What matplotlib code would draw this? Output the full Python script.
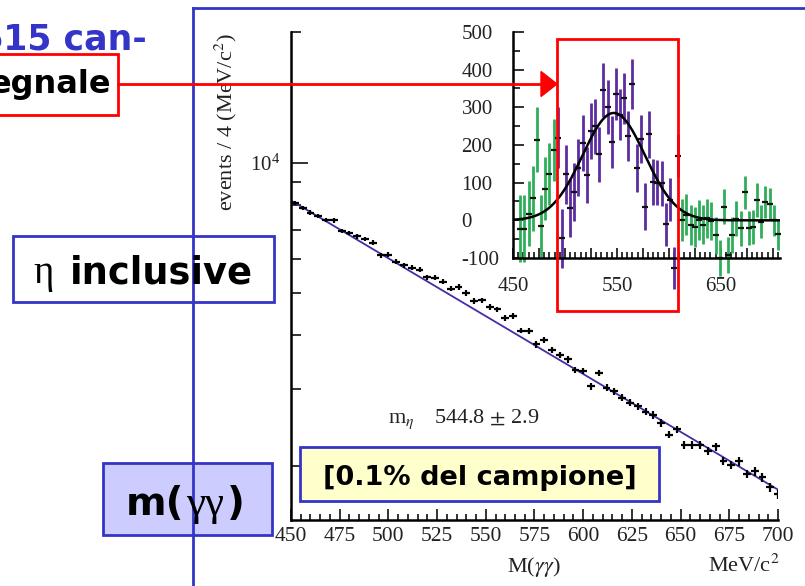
import numpy as np
import matplotlib
matplotlib.use('Agg')
import matplotlib.pyplot as plt
from matplotlib.patches import Rectangle, Polygon
from matplotlib.ticker import (MultipleLocator, FixedLocator, FixedFormatter,
                               NullFormatter, FuncFormatter)

plt.rcParams['font.family'] = ['Liberation Serif', 'DejaVu Serif']
plt.rcParams['mathtext.fontset'] = 'stix'
plt.rcParams['axes.unicode_minus'] = False

# m(gamma gamma) spectrum, 4 MeV/c^2 bins
mass = np.arange(452, 701, 4)
counts = [8058, 7860, 7669, 7522, 7381, 7359, 6956, 6886, 6759, 6662,
          6538, 6118, 6138, 5903, 5803, 5729, 5659, 5441, 5430, 5316,
          5118, 5169, 5008, 4801, 4816, 4652, 4590, 4386, 4424, 4101,
          4082, 3809, 3910, 3696, 3605, 3518, 3326, 3312, 3051, 3272,
          3026, 2967, 2868, 2794, 2744, 2664, 2621, 2508, 2361, 2426,
          2237, 2230, 2229, 2159, 2216, 2049, 2008, 2048, 1915, 1943,
          1882, 1787, 1718]

# exponential background fit, values at the ends of the range
bg_mass = [450, 700]
bg_counts = [8178, 1762]

# background-subtracted spectrum (inset)
sub_mass = np.arange(457, 706, 4)
excess = np.array([-22, -22, 18, 59, 214, -15, 84, 122, 186, 219,
                   -48, 122, 33, 75, 140, 205, 120, 238, 250, 175,
                   346, 301, 209, 335, 280, 324, 223, 362, 138, 215,
                   36, 228, 103, 100, 98, -11, 55, -127, 171, 1,
                   15, -12, -17, 1, -12, 5, -2, -40, -100, 36,
                   -92, -39, 4, -21, 74, -21, -17, 54, -4, 48,
                   43, 0, -37])
excess_err = np.array([89, 88, 87, 86, 86, 83, 83, 82, 82, 81,
                       78, 78, 77, 76, 76, 75, 74, 74, 73, 72,
                       72, 71, 69, 69, 68, 68, 66, 67, 64, 64,
                       62, 63, 61, 60, 59, 58, 58, 55, 57, 55,
                       54, 54, 53, 52, 52, 51, 50, 49, 49, 47,
                       47, 47, 46, 47, 45, 45, 45, 44, 44, 43,
                       42, 41, 41])
signal_window = (492, 610)

# gaussian fit of the eta peak
peak_height = 285
peak_mean = 547
peak_sigma = 30

BLUE = '#3434c8'
RED = '#ff0000'
FIT_COLOR = '#4a2aa5'
SIG_COLOR = '#5b2d9e'
SB_COLOR = '#2fae5a'
INK = '#222222'

W, H = 805, 586
fig = plt.figure(figsize=(W / 100, H / 100), dpi=100)


def rect(x0, y0, x1, y1):
    # pixel box, origin top-left -> figure fraction
    return [x0 / W, 1 - y1 / H, (x1 - x0) / W, (y1 - y0) / H]


# ---- main spectrum ----
ax = fig.add_axes(rect(291, 32, 778, 520))
ax.set_yscale('log')
ax.plot(bg_mass, bg_counts, color=FIT_COLOR, lw=1.3, zorder=2)
ax.errorbar(mass, counts, xerr=2, yerr=np.sqrt(counts), fmt='none',
            ecolor='k', elinewidth=1.6, capsize=0, zorder=3)
ax.set_xlim(450, 700)
ax.set_ylim(1500, 20000)
for s in ('top', 'right'):
    ax.spines[s].set_visible(False)
for s in ('left', 'bottom'):
    ax.spines[s].set_linewidth(1.8)
ax.xaxis.set_major_locator(MultipleLocator(25))
ax.xaxis.set_minor_locator(MultipleLocator(5))
ax.yaxis.set_major_locator(FixedLocator([1e4]))
ax.yaxis.set_major_formatter(FixedFormatter([r'$\mathdefault{10^{4}}$']))
ax.yaxis.set_minor_locator(FixedLocator([2000, 3000, 4000, 5000, 6000,
                                         7000, 8000, 9000, 20000]))
ax.yaxis.set_minor_formatter(NullFormatter())
ax.tick_params(which='both', direction='in', top=False, right=False,
               width=1.3, colors=INK, labelsize=15.5)
ax.tick_params(axis='x', which='major', length=8, pad=5)
ax.tick_params(axis='x', which='minor', length=4.5)
ax.tick_params(axis='y', which='major', length=12, pad=8, labelsize=15)
ax.tick_params(axis='y', which='minor', length=7)

# ---- inset: background subtracted ----
axin = fig.add_axes(rect(513, 32, 780, 258))
axin.patch.set_alpha(0)
sig = (sub_mass > signal_window[0]) & (sub_mass < signal_window[1])
for sel, col in ((~sig, SB_COLOR), (sig, SIG_COLOR)):
    eb = axin.errorbar(sub_mass[sel], excess[sel], yerr=excess_err[sel],
                       fmt='none', ecolor=col, elinewidth=2, capsize=0)
    for lc in eb[2]:
        lc.set_clip_on(False)
axin.plot(sub_mass, excess, ls='none', marker='_', ms=5, mew=1.6,
          color='#111111', clip_on=False)
xs = np.linspace(450, 707, 400)
axin.plot(xs, peak_height * np.exp(-0.5 * ((xs - peak_mean) / peak_sigma) ** 2),
          color='k', lw=1.8)
axin.set_xlim(450, 707)
axin.set_ylim(-100, 500)
for s in ('top', 'right'):
    axin.spines[s].set_visible(False)
for s in ('left', 'bottom'):
    axin.spines[s].set_linewidth(1.8)
axin.yaxis.set_major_locator(FixedLocator([-100, 0, 100, 200, 300, 400, 500]))
axin.yaxis.set_minor_locator(MultipleLocator(50))
axin.xaxis.set_major_locator(MultipleLocator(25))
axin.xaxis.set_minor_locator(MultipleLocator(5))
axin.xaxis.set_major_formatter(
    FuncFormatter(lambda v, p: f'{v:.0f}' if round(v) in (450, 550, 650) else ''))
axin.tick_params(which='both', direction='in', top=False, right=False,
                 width=1.3, colors=INK, labelsize=15)
axin.tick_params(axis='y', which='major', length=8, pad=37)
axin.tick_params(axis='y', which='minor', length=5)
axin.tick_params(axis='x', which='major', length=7, pad=14)
axin.tick_params(axis='x', which='minor', length=4)
fig.canvas.draw()
plt.setp(axin.get_yticklabels(), ha='left')

# ---- slide decorations, pixel coordinates ----
ov = fig.add_axes([0, 0, 1, 1], zorder=10)
ov.set_xlim(0, W)
ov.set_ylim(H, 0)
ov.axis('off')
ov.patch.set_alpha(0)

ov.plot([193, 193], [8, H + 5], color=BLUE, lw=2, clip_on=False)
ov.plot([193, W + 5], [8, 8], color=BLUE, lw=2, clip_on=False)

ov.text(147, 50, '615 can-', ha='right', va='baseline', fontsize=25,
        weight='bold', color=BLUE, family='DejaVu Sans')
ov.add_patch(Rectangle((-5, 54), 123, 61, facecolor='white', edgecolor=RED,
                       lw=2, clip_on=False))
ov.text(111, 93, 'egnale', ha='right', va='baseline', fontsize=23,
        weight='bold', color='black', family='DejaVu Sans')

ov.add_patch(Rectangle((556.7, 39), 121.6, 272, fill=False, edgecolor=RED, lw=2))
ov.plot([118, 543], [84, 84], color=RED, lw=2)
ov.add_patch(Polygon([[541, 71.5], [557, 84], [541, 96.5]], closed=True,
                     facecolor=RED, edgecolor=RED, lw=1))

# axis titles
ov.text(226, 122, 'events / 4 (MeV/c$^{2}$)', rotation=90, ha='center',
        va='center', fontsize=16, color=INK, zorder=1)
ov.text(534, 572, r'M($\gamma\gamma$)', ha='center', va='baseline',
        fontsize=16, color=INK)
ov.text(780, 572, 'MeV/c$^{2}$', ha='right', va='baseline', fontsize=16,
        color=INK)
ov.text(388, 423, r'm$_{\eta}$', ha='left', va='baseline', fontsize=16, color=INK)
ov.text(434, 423, r'544.8 $\pm$ 2.9', ha='left', va='baseline', fontsize=16,
        color=INK)

# labels on the left
ov.add_patch(Rectangle((12.7, 235.7), 261.3, 66, facecolor='white',
                       edgecolor=BLUE, lw=2))
ov.text(33, 283, '\u03b7', ha='left', va='baseline', fontsize=28, color='black')
ov.text(70, 283, 'inclusive', ha='left', va='baseline', fontsize=26.5,
        weight='bold', color='black', family='DejaVu Sans')

ov.add_patch(Rectangle((103.3, 462.7), 168.4, 72.3, facecolor='#ccccff',
                       edgecolor=BLUE, lw=2))
ov.text(126, 515, 'm(', ha='left', va='baseline', fontsize=28, weight='bold',
        color='black', family='DejaVu Sans')
ov.text(186, 515, '\u03b3\u03b3', ha='left', va='baseline', fontsize=31,
        color='black')
ov.text(227, 515, ')', ha='left', va='baseline', fontsize=28, weight='bold',
        color='black', family='DejaVu Sans')

ov.add_patch(Rectangle((300, 447), 359, 54, facecolor='#ffffcc',
                       edgecolor=BLUE, lw=2))
ov.text(479.5, 485, '[0.1% del campione]', ha='center', va='baseline',
        fontsize=19.5, weight='bold', color='black', family='DejaVu Sans')

fig.savefig('out.png', dpi=100)
